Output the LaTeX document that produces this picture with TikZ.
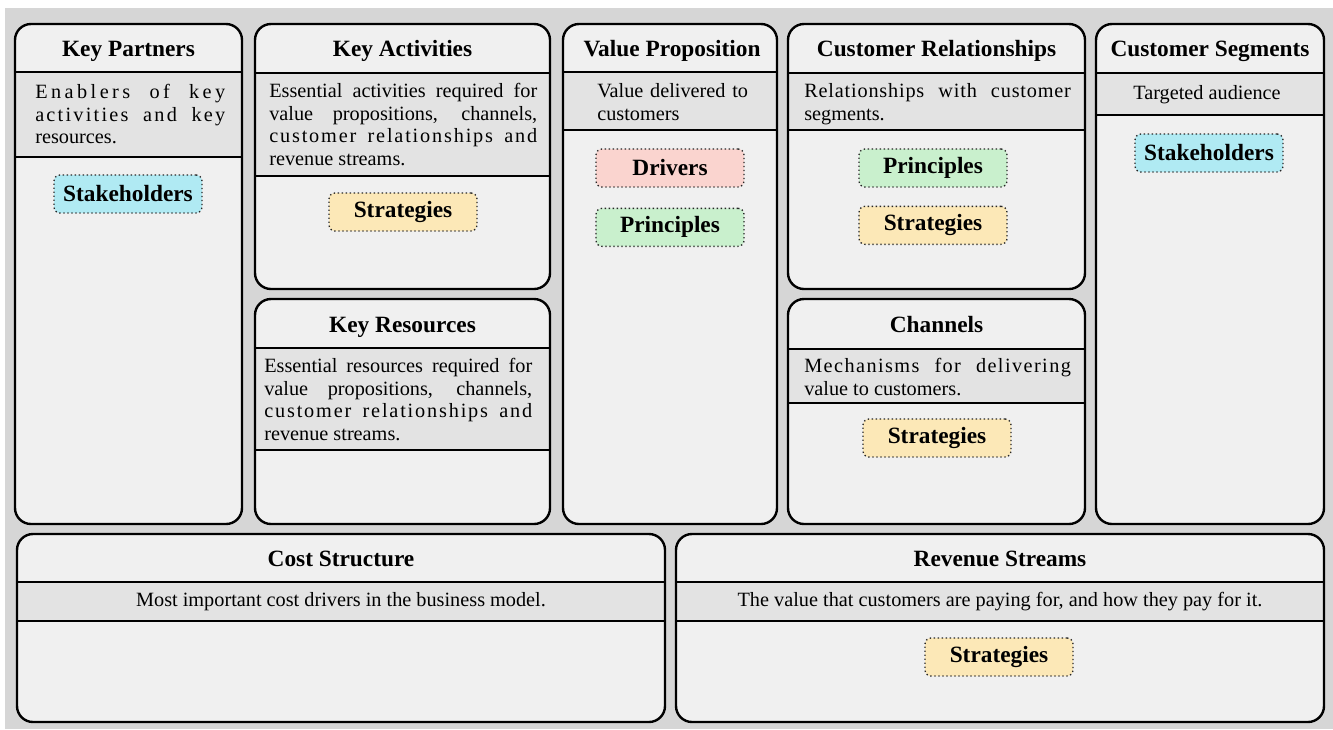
\documentclass[tikz,border=0pt]{standalone}
\usepackage{fontspec}
\setmainfont{Liberation Serif}
\usepackage{xcolor}
\usepackage{tikz}
\usetikzlibrary{positioning}

\definecolor{canvasgray}{RGB}{214,214,214}
\definecolor{panelfill}{RGB}{240,240,240}
\definecolor{bandfill}{RGB}{227,227,227}
\definecolor{stakecyan}{RGB}{176,234,243}
\definecolor{stratyellow}{RGB}{252,232,183}
\definecolor{drivepink}{RGB}{250,212,207}
\definecolor{pringreen}{RGB}{201,240,205}

\begin{document}
\begin{tikzpicture}[x=0.75pt,y=0.75pt,yscale=-1,xscale=1,
  panel/.style={draw=black, line width=1.8pt, rounded corners=12pt},
  rule/.style={draw=black, line width=1.6pt},
  title/.style={font=\bfseries\fontsize{17.5}{20}\selectfont, inner sep=0pt, anchor=base},
  desc/.style={font=\fontsize{15.2}{17}\selectfont, anchor=north west, inner sep=0pt, align=justify},
  tag/.style={draw=black!85, dotted, line width=1pt, rounded corners=4.5pt, minimum width=111pt, minimum height=28.5pt, inner sep=0pt, font=\bfseries\fontsize{17.5}{20}\selectfont}]
\useasboundingbox (0,0) rectangle (1333,729);
\fill[white] (0,0) rectangle (1333,729);
\fill[canvasgray] (5,8) rectangle (1333,729); %grey canvas behind the panels

%Key Partners
\fill[panelfill, rounded corners=12pt] (15,24) rectangle (242,524);
\fill[bandfill] (15,72) rectangle (242,157);
\draw[rule] (15,72) -- (242,72) (15,157) -- (242,157);
\draw[panel] (15,24) rectangle (242,524);
%Key Activities
\fill[panelfill, rounded corners=12pt] (255,24) rectangle (550,289);
\fill[bandfill] (255,73) rectangle (550,176);
\draw[rule] (255,73) -- (550,73) (255,176) -- (550,176);
\draw[panel] (255,24) rectangle (550,289);
%Key Resources
\fill[panelfill, rounded corners=12pt] (255,299) rectangle (550,524);
\fill[bandfill] (255,348) rectangle (550,450);
\draw[rule] (255,348) -- (550,348) (255,450) -- (550,450);
\draw[panel] (255,299) rectangle (550,524);
%Value Proposition
\fill[panelfill, rounded corners=12pt] (563,24) rectangle (777,524);
\fill[bandfill] (563,72) rectangle (777,130);
\draw[rule] (563,72) -- (777,72) (563,130) -- (777,130);
\draw[panel] (563,24) rectangle (777,524);
%Customer Relationships
\fill[panelfill, rounded corners=12pt] (788,24) rectangle (1085,289);
\fill[bandfill] (788,73) rectangle (1085,130);
\draw[rule] (788,73) -- (1085,73) (788,130) -- (1085,130);
\draw[panel] (788,24) rectangle (1085,289);
%Channels
\fill[panelfill, rounded corners=12pt] (788,299) rectangle (1085,524);
\fill[bandfill] (788,349) rectangle (1085,403);
\draw[rule] (788,349) -- (1085,349) (788,403) -- (1085,403);
\draw[panel] (788,299) rectangle (1085,524);
%Customer Segments
\fill[panelfill, rounded corners=12pt] (1096,24) rectangle (1324,524);
\fill[bandfill] (1096,73) rectangle (1324,115);
\draw[rule] (1096,73) -- (1324,73) (1096,115) -- (1324,115);
\draw[panel] (1096,24) rectangle (1324,524);
%Cost Structure
\fill[panelfill, rounded corners=12pt] (17,534) rectangle (665,722);
\fill[bandfill] (17,582) rectangle (665,621);
\draw[rule] (17,582) -- (665,582) (17,621) -- (665,621);
\draw[panel] (17,534) rectangle (665,722);
%Revenue Streams
\fill[panelfill, rounded corners=12pt] (676,534) rectangle (1324,722);
\fill[bandfill] (676,582) rectangle (1324,621);
\draw[rule] (676,582) -- (1324,582) (676,621) -- (1324,621);
\draw[panel] (676,534) rectangle (1324,722);

% Titles (base line)
\node[title] (kpTitle) at (128.5,56) {Key Partners};
\node[title] (kaTitle) at (402.5,56) {Key Activities};
\node[title] (krTitle) at (402.5,332) {Key Resources};
\node[title] (vpTitle) at (672,56) {Value Proposition};
\node[title] (crTitle) at (936.5,56) {Customer Relationships};
\node[title] (chTitle) at (936.5,332) {Channels};
\node[title] (csTitle) at (1210,56) {Customer Segments};
\node[title] (costTitle) at (341,566) {Cost Structure};
\node[title] (rsTitle) at (1000,566) {Revenue Streams};

% Text Node
\node[desc, text width=142.5pt] (kpText) at (35,84) {{\addfontfeature{LetterSpace=17}Enablers of key}\linebreak{\addfontfeature{LetterSpace=11}activities and key}\linebreak resources.};
% Text Node
\node[desc, text width=201pt] (kaText) at (269,83) {Essential activities required for\linebreak value propositions, channels,\linebreak {\addfontfeature{LetterSpace=9}customer relationships and}\linebreak revenue streams.};
% Text Node
\node[desc, text width=201pt] (krText) at (264,358) {Essential resources required for\linebreak value propositions, channels,\linebreak {\addfontfeature{LetterSpace=9}customer relationships and}\linebreak revenue streams.};
% Text Node
\node[desc, text width=130pt, align=left] (vpText) at (597,83) {Value delivered to\\customers};
% Text Node
\node[desc, text width=200pt] (crText) at (804,83) {{\addfontfeature{LetterSpace=4}Relationships with customer}\linebreak segments.};
% Text Node
\node[desc, text width=200pt] (chText) at (804,358) {{\addfontfeature{LetterSpace=7}Mechanisms for delivering}\linebreak value to customers.};
% Text Node
\node[desc, anchor=center, align=center] (csText) at (1207,95) {Targeted audience};
% Text Node
\node[desc, anchor=center, align=center] (costText) at (341,602) {Most important cost drivers in the business model.};
% Text Node
\node[desc, anchor=center, align=center] (rsText) at (1000,602) {The value that customers are paying for, and how they pay for it.};

% Tags
\node[tag, fill=stakecyan] (kpStake) at (128,194) {Stakeholders};
\node[tag, fill=stratyellow] (kaStrat) at (403,212) {Strategies};
\node[tag, fill=drivepink] (vpDrivers) at (670,168) {Drivers};
\node[tag, fill=pringreen, below=15pt of vpDrivers] (vpPrin) {Principles};
\node[tag, fill=pringreen] (crPrin) at (933,168) {Principles};
\node[tag, fill=stratyellow, below=13.5pt of crPrin] (crStrat) {Strategies};
\node[tag, fill=stratyellow] (chStrat) at (937,438) {Strategies};
\node[tag, fill=stakecyan] (csStake) at (1209,153) {Stakeholders};
\node[tag, fill=stratyellow] (rsStrat) at (999,657) {Strategies};
\end{tikzpicture}
\end{document}
